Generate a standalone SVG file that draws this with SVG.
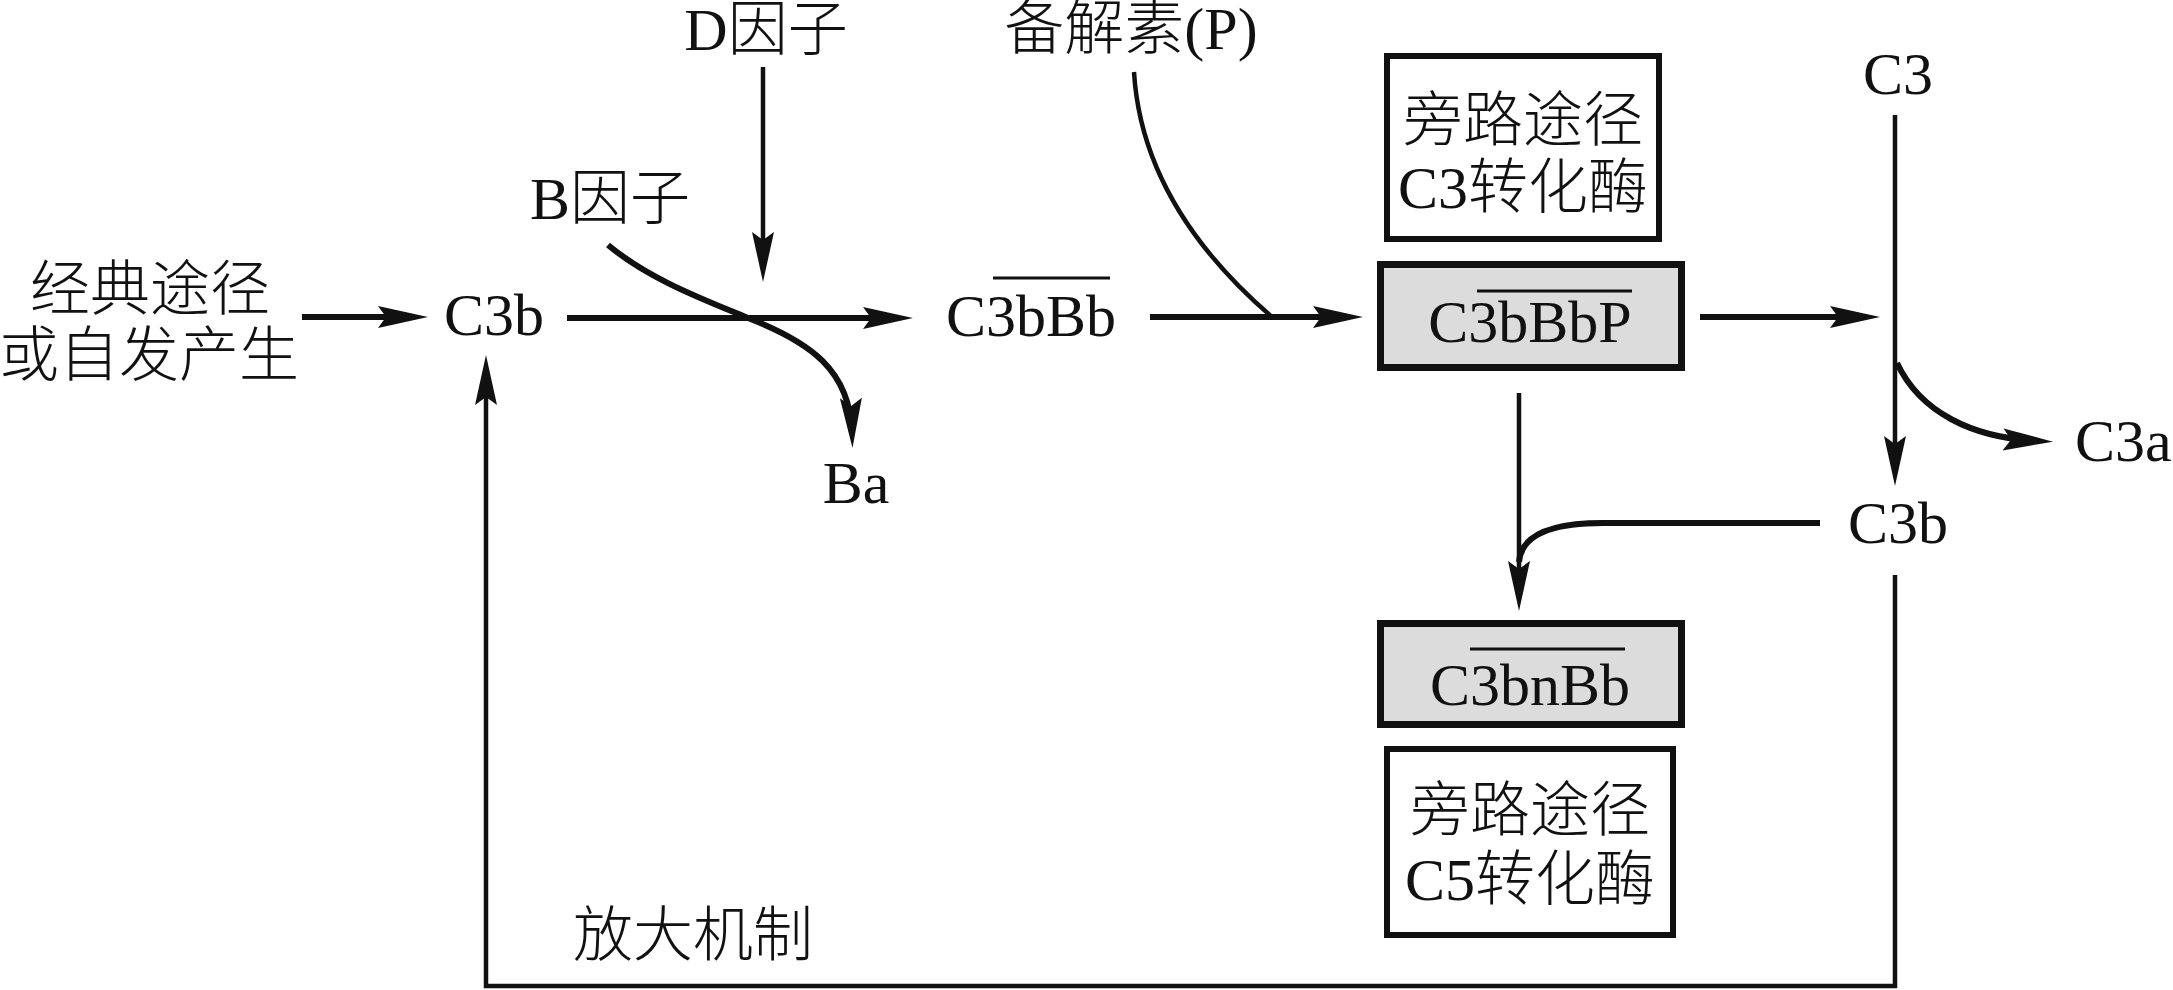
<svg xmlns="http://www.w3.org/2000/svg" width="2173" height="990" viewBox="0 0 2173 990">
<style>
text{font-family:"Liberation Serif","Noto Sans CJK SC",serif;font-size:60px;font-weight:300;fill:#111;text-anchor:middle}
.thick{fill:none;stroke:#111;stroke-width:6}
.thin{fill:none;stroke:#111;stroke-width:4.5}
.ol{stroke:#111;stroke-width:3}
.gbox{fill:#dcdcdc;stroke:#111;stroke-width:7}
.wbox{fill:#fff;stroke:#111;stroke-width:6}
</style>
<defs>
<marker id="ah" viewBox="-40 -12 57 24" refX="0" refY="0" markerWidth="57" markerHeight="24" markerUnits="userSpaceOnUse" orient="auto">
<path d="M15,0 L-35,-11 L-27,0 L-35,11 Z" fill="#111"/>
</marker>
</defs>
<rect width="2173" height="990" fill="#fff"/>
<g id="connectors">
<path class="thick" d="M302,317 H413" marker-end="url(#ah)"/>
<path class="thick" d="M567,318 H898" marker-end="url(#ah)"/>
<path class="thick" d="M1150,317 H1348" marker-end="url(#ah)"/>
<path class="thick" d="M1700,317 H1865" marker-end="url(#ah)"/>
<path class="thin" d="M763,67 V267" marker-end="url(#ah)"/>
<path class="thick" d="M608,245 C650,280 705,300 748,318 C810,342 850,370 852,433" marker-end="url(#ah)"/>
<path class="thin" d="M1134,72 Q1142,205 1272,317"/>
<path class="thin" d="M1895,115 V471" marker-end="url(#ah)"/>
<path class="thick" d="M1897,363 C1920,412 1972,438 2038,441" marker-end="url(#ah)"/>
<path class="thin" d="M1895,575 V986 H486 V370" marker-end="url(#ah)"/>
<path class="thin" d="M1519,393 V596" marker-end="url(#ah)"/>
<path class="thick" d="M1820,523 H1603 Q1522,523 1519,562"/>
</g>
<g id="n-source"><text x="150" y="310">经典途径</text><text x="149" y="376">或自发产生</text></g>
<g id="n-c3b-left"><text x="494" y="335">C3b</text></g>
<g id="n-bfactor"><text x="610" y="219">B因子</text></g>
<g id="n-dfactor"><text x="766" y="50">D因子</text></g>
<g id="n-ba"><text x="856" y="503">Ba</text></g>
<g id="n-c3bbb"><text x="1031" y="336">C3bBb</text><line class="ol" x1="993" y1="278" x2="1110" y2="278"/></g>
<g id="n-properdin"><text x="1131" y="49">备解素(P)</text></g>
<g id="n-c3conv"><rect class="wbox" x="1387" y="56" width="272" height="183"/><text x="1523" y="141">旁路途径</text><text x="1523" y="208">C3转化酶</text></g>
<g id="n-c3bbbp"><rect class="gbox" x="1380.5" y="264.5" width="301" height="103"/><text x="1530" y="342">C3bBbP</text><line class="ol" x1="1477" y1="291" x2="1632" y2="291"/></g>
<g id="n-c3"><text x="1898" y="94">C3</text></g>
<g id="n-c3a"><text x="2075" y="461" style="text-anchor:start">C3a</text></g>
<g id="n-c3b-right"><text x="1898" y="543">C3b</text></g>
<g id="n-c3bnbb"><rect class="gbox" x="1380.5" y="623.5" width="301" height="101"/><text x="1530" y="705">C3bnBb</text><line class="ol" x1="1470" y1="649" x2="1625" y2="649"/></g>
<g id="n-c5conv"><rect class="wbox" x="1387" y="749" width="286" height="186"/><text x="1530" y="831">旁路途径</text><text x="1530" y="900">C5转化酶</text></g>
<g id="n-amplify"><text x="693" y="956">放大机制</text></g>
</svg>
